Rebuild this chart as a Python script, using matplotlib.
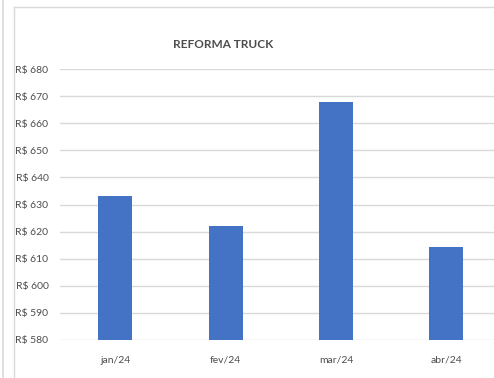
import matplotlib
matplotlib.use("Agg")
import matplotlib.pyplot as plt
from matplotlib.lines import Line2D

# data
months = ["jan/24", "fev/24", "mar/24", "abr/24"]
values = [633.3, 622.2, 667.8, 614.3]
y_ticks = [580, 590, 600, 610, 620, 630, 640, 650, 660, 670, 680]
tick_labels = [f"R$ {t}" for t in y_ticks]

W, H = 494, 378
plt.rcParams['font.family'] = ['Lato', 'DejaVu Sans']

fig = plt.figure(figsize=(W / 100, H / 100), dpi=100)
fig.patch.set_facecolor("white")

# frame lines from the screenshot
border = "#d9d9d9"
fig.add_artist(Line2D([3 / W, 3 / W], [0, 1], color=border, lw=1.2))
fig.add_artist(Line2D([14 / W, 14 / W], [0, (H - 7) / H], color=border, lw=1.0))
fig.add_artist(Line2D([14 / W, 1], [(H - 7) / H, (H - 7) / H], color=border, lw=1.0))

# plot area in pixels: x 60..501, y 69..340
left, right = 60.2 / W, 501.4 / W
bottom, top = (H - 339.7) / H, (H - 69.3) / H
ax = fig.add_axes([left, bottom, right - left, top - bottom])
ax.set_facecolor("none")

x = list(range(len(months)))
ax.bar(x, values, width=0.308, color="#4472C4", zorder=3)

ax.set_xlim(-0.5, 3.5)
ax.set_ylim(580, 680)
ax.set_yticks(y_ticks)
ax.set_yticklabels(tick_labels)
ax.set_xticks(x)
ax.set_xticklabels(months)
ax.grid(axis="y", color="#d9d9d9", lw=1.0, zorder=0)
ax.tick_params(axis="both", length=0, colors="#4d4d4d", labelsize=7.5)
ax.tick_params(axis="y", pad=8.5)
ax.tick_params(axis="x", pad=11.5)
for s in ax.spines.values():
    s.set_visible(False)

fig.text(223 / W, (H - 44) / H, "REFORMA TRUCK", ha="center", va="center",
         fontsize=8.5, fontweight="bold", color="#4d4d4d")

fig.savefig("out.png", dpi=100)
